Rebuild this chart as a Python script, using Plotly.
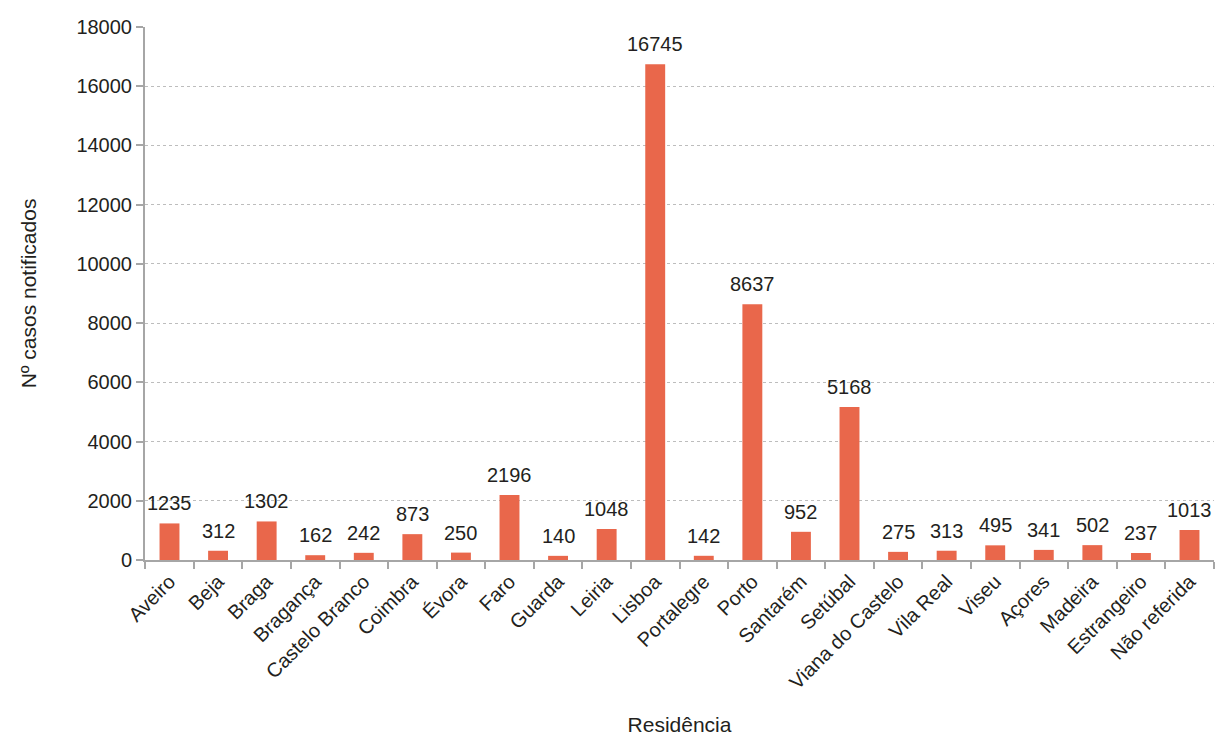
import plotly.graph_objects as go

# Casos notificados por residência
residencia = [
    "Aveiro", "Beja", "Braga", "Bragança", "Castelo Branco", "Coimbra", "Évora",
    "Faro", "Guarda", "Leiria", "Lisboa", "Portalegre", "Porto", "Santarém",
    "Setúbal", "Viana do Castelo", "Vila Real", "Viseu", "Açores", "Madeira",
    "Estrangeiro", "Não referida",
]
casos = [
    1235, 312, 1302, 162, 242, 873, 250,
    2196, 140, 1048, 16745, 142, 8637, 952,
    5168, 275, 313, 495, 341, 502,
    237, 1013,
]
y_ticks = [0, 2000, 4000, 6000, 8000, 10000, 12000, 14000, 16000, 18000]

FONT = "Liberation Sans, Arial, sans-serif"
BAR = "#E9674B"
AXIS = "#A6A6A6"
FS = 20

fig = go.Figure()
fig.add_trace(go.Bar(
    x=residencia,
    y=casos,
    marker=dict(color=BAR, line=dict(width=0)),
    hoverinfo="x+y",
))

# value labels sitting above each bar
for name, v in zip(residencia, casos):
    fig.add_annotation(
        x=name, y=v, text=str(v), showarrow=False,
        yanchor="middle", yshift=20,
        font=dict(family=FONT, size=FS, color="#231F20"),
    )

fig.update_layout(
    width=1222, height=736,
    margin=dict(l=145, r=8, t=27, b=176),
    paper_bgcolor="white", plot_bgcolor="white",
    bargap=0.59,
    showlegend=False,
    font=dict(family=FONT, size=FS, color="#231F20"),
)
fig.update_xaxes(
    title=dict(text="Residência", font=dict(size=21), standoff=26),
    automargin=False,
    tickangle=-45,
    tickfont=dict(size=FS),
    showline=True, linecolor=AXIS, linewidth=2,
    ticks="outside", tickcolor=AXIS, ticklen=7, tickwidth=2,
    tickson="boundaries",
    showgrid=False,
)
fig.update_yaxes(
    title=dict(text="Nº casos notificados", font=dict(size=21), standoff=34),
    automargin=False,
    range=[0, 18000],
    tickvals=y_ticks,
    tickformat="d",
    tickfont=dict(size=FS),
    showline=True, linecolor=AXIS, linewidth=2,
    ticks="outside", tickcolor=AXIS, ticklen=7, tickwidth=2,
    showgrid=True, gridcolor="#BDBDBD", griddash="dot", gridwidth=1,
    zeroline=False,
)

fig.write_html("out.html")
